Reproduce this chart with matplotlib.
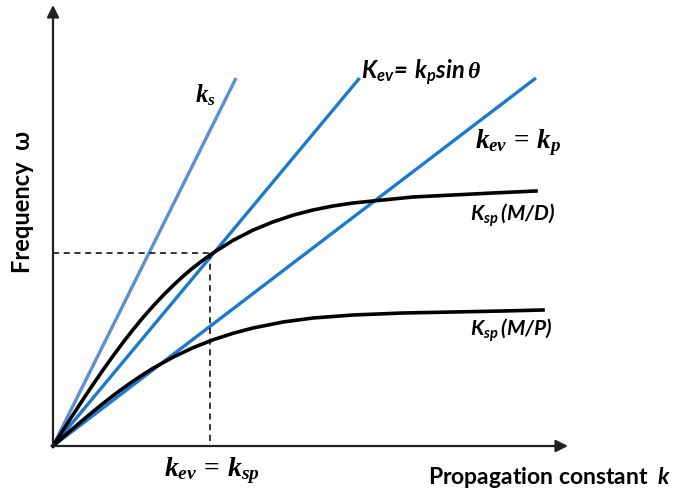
import numpy as np
import matplotlib.pyplot as plt

plt.rcParams['mathtext.fontset'] = 'custom'
plt.rcParams['mathtext.it'] = 'Liberation Serif:bold:italic'
plt.rcParams['mathtext.rm'] = 'Liberation Serif:bold'
plt.rcParams['mathtext.sf'] = 'Lato:bold:italic'

# light lines: omega = slope * k, drawn up to omega_top
omega_top = 3.68
slope_s = 2.01      # k_s
slope_ev = 1.20     # K_ev = k_p sin(theta)
slope_p = 0.762     # k_ev = k_p

# surface plasmon dispersion, metal/dielectric
k_md = [0, 0.1, 0.2, 0.3, 0.4, 0.5, 0.6, 0.7, 0.8, 0.9, 1.0, 1.1, 1.2, 1.3,
        1.4, 1.5, 1.6, 1.8, 2.0, 2.2, 2.4, 2.6, 2.8, 3.0, 3.3, 3.6, 4.0,
        4.4, 4.83]
w_md = [0, 0.157, 0.312, 0.465, 0.615, 0.760, 0.900, 1.035, 1.163, 1.285,
        1.398, 1.505, 1.604, 1.697, 1.782, 1.858, 1.930, 2.056, 2.159,
        2.241, 2.308, 2.360, 2.400, 2.430, 2.460, 2.490, 2.510, 2.530, 2.550]

# surface plasmon dispersion, metal/prism
k_mp = [0, 0.1, 0.2, 0.3, 0.4, 0.5, 0.6, 0.7, 0.8, 0.9, 1.0, 1.2, 1.4, 1.6,
        1.8, 2.0, 2.3, 2.6, 3.0, 3.5, 4.0, 4.5, 4.9]
w_mp = [0, 0.088, 0.175, 0.260, 0.344, 0.425, 0.503, 0.577, 0.648, 0.714,
        0.777, 0.888, 0.983, 1.062, 1.127, 1.180, 1.240, 1.280, 1.310,
        1.330, 1.340, 1.350, 1.360]

# coupling point k_ev = k_sp
k_c = 1.57
w_c = 1.93

fig = plt.figure(figsize=(6.87, 4.96), dpi=100)
ax = fig.add_axes([0, 0, 1, 1])
ax.set_xlim(-0.53, 6.34)
ax.set_ylim(-0.50, 4.46)
ax.axis('off')

# axes with arrows
ax.annotate('', xy=(5.15, 0), xytext=(0, 0),
            arrowprops=dict(arrowstyle='-|>', lw=1.6, color='#222222',
                            mutation_scale=18, shrinkA=0, shrinkB=0))
ax.annotate('', xy=(0, 4.41), xytext=(0, 0),
            arrowprops=dict(arrowstyle='-|>', lw=1.6, color='#222222',
                            mutation_scale=18, shrinkA=0, shrinkB=0))

for s, c in [(slope_s, '#5b8fd6'), (slope_ev, '#1c79d0'), (slope_p, '#1c79d0')]:
    ax.plot([0, omega_top / s], [0, omega_top], color=c, lw=2.4,
            solid_capstyle='butt')

ax.plot(k_md, w_md, color='black', lw=2.6, solid_joinstyle='round')
ax.plot(k_mp, w_mp, color='black', lw=2.6, solid_joinstyle='round')

ax.plot([0, k_c], [w_c, w_c], '--', color='black', lw=1.1, dashes=(4, 3))
ax.plot([k_c, k_c], [w_c, 0], '--', color='black', lw=1.1, dashes=(4, 3))

ax.text(1.52, 3.51, r'$k_s$', fontsize=18, ha='center', va='center')
ax.text(3.08, 3.73, r'$\mathsf{K_{ev}\!=\,k_p sin\,}\theta$', fontsize=17,
        ha='left', va='center')
ax.text(4.22, 3.03, r'$k_{ev}\,\mathrm{=}\,k_p$', fontsize=19.5,
        ha='left', va='center')
ax.text(4.17, 2.31, r'$\mathsf{K_{sp}\,(M/D)}$', fontsize=15,
        ha='left', va='center')
ax.text(4.17, 1.16, r'$\mathsf{K_{sp}\,(M/P)}$', fontsize=15,
        ha='left', va='center')
ax.text(k_c + 0.02, -0.25, r'$k_{ev}\,\mathrm{=}\,k_{sp}$', fontsize=20,
        ha='center', va='center')

ax.text(3.75, -0.32, r'Propagation constant  $\mathsf{k}$', fontsize=16.5,
        fontweight='bold', family='Lato', ha='left', va='center')
ax.text(-0.30, 2.44, 'Frequency  ω', fontsize=17, fontweight='bold',
        family=['Lato', 'DejaVu Sans'], rotation=90, ha='center', va='center')

fig.savefig('out.png', dpi=100)
